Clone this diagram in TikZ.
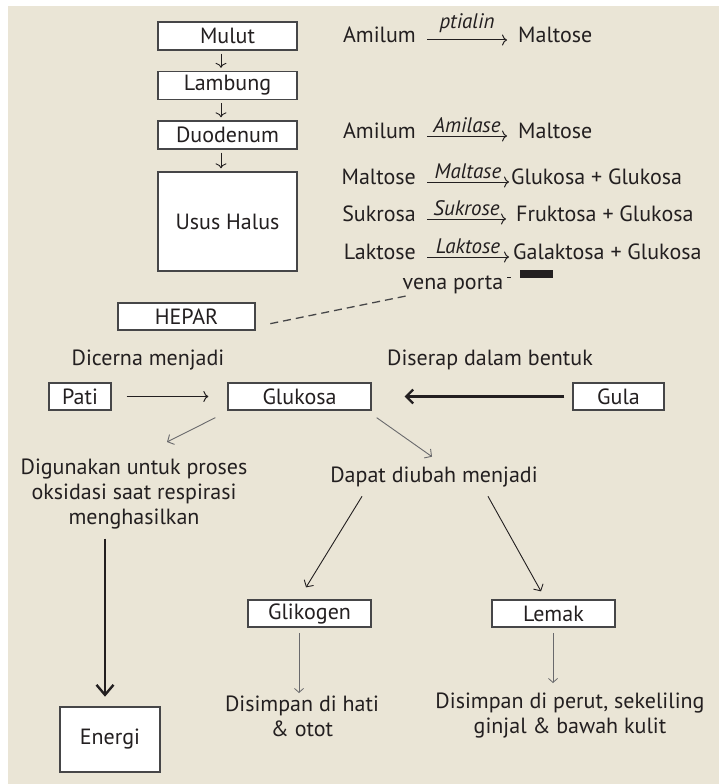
\documentclass[tikz,border=0pt]{standalone}
\usepackage{fontspec}
\setmainfont{PT Sans}
\usetikzlibrary{arrows.meta}
\definecolor{paper}{RGB}{234,229,214}
\definecolor{ink}{RGB}{35,31,32}
\definecolor{edge}{RGB}{70,70,72}
\definecolor{soft}{RGB}{105,105,108}
\begin{document}
\begin{tikzpicture}[x=1pt,y=-1pt,
  every node/.style={text=ink,inner sep=0pt,font=\fontsize{22}{25}\selectfont},
  organ/.style={draw=edge,fill=white,line width=1.3pt,minimum width=139pt,minimum height=28pt},
  lhs/.style={anchor=mid east},
  rhs/.style={anchor=mid west},
  enzyme/.style={anchor=base,yshift=4pt,font=\fontsize{21}{24}\selectfont\itshape},
  passage/.style={draw=ink,line width=0.9pt,-{Computer Modern Rightarrow[length=5pt,width=11pt]}},
  reaction/.style={draw=ink,line width=1pt,-{Computer Modern Rightarrow[length=5pt,width=11pt]}},
  lightarrow/.style={draw=soft,line width=0.9pt,-{Straight Barb[length=5pt,width=11pt]}},
  heavyarrow/.style={draw=ink,line width=2.2pt,-{Straight Barb[length=7pt,width=14pt]}},
  bigarrow/.style={draw=ink,line width=2.4pt,-{Straight Barb[length=10pt,width=17pt]}},
  porta/.style={draw=edge,line width=1.3pt,dash pattern=on 8pt off 5pt}
]
\useasboundingbox (0,0) rectangle (719,784);
\fill[white] (0,0) rectangle (719,784);
\fill[paper] (8,6) rectangle (719,784);

% digestive tract
\node[organ] (mulut) at (227.5,36) {Mulut};
\node[organ] (lambung) at (227.5,85.5) {Lambung};
\node[organ] (duo) at (227.5,135) {Duodenum};
\node[organ,minimum height=99pt] (usus) at (227.5,221.5) {Usus Halus};
\draw[passage] ([xshift=-6.5pt,yshift=-3pt]mulut.south) -- ([xshift=-6.5pt,yshift=3pt]lambung.north);
\draw[passage] ([xshift=-6.5pt,yshift=-3pt]lambung.south) -- ([xshift=-6.5pt,yshift=3pt]duo.north);
\draw[passage] ([xshift=-6.5pt,yshift=-3pt]duo.south) -- ([xshift=-6.5pt,yshift=3pt]usus.north);

% enzymatic reactions
\node[lhs] (a1) at (416,40) {Amilum};
\node[rhs] (b1) at (518,40) {Maltose};
\draw[reaction] ([xshift=11pt]a1.mid east) -- ([xshift=-11pt]b1.mid west)
  node[enzyme,midway,yshift=7pt] {ptialin};
\node[lhs] (a2) at (416,136) {Amilum};
\node[rhs] (b2) at (518,136) {Maltose};
\draw[reaction] ([xshift=11pt]a2.mid east) -- ([xshift=-11pt]b2.mid west)
  node[enzyme,midway] {Amilase};
\node[lhs] (a3) at (416,182) {Maltose};
\node[rhs] (b3) at (511,182) {Glukosa + Glukosa};
\draw[reaction] ([xshift=11pt]a3.mid east) -- ([xshift=-2pt]b3.mid west)
  node[enzyme,midway] {Maltase};
\node[lhs] (a4) at (416,219) {Sukrosa};
\node[rhs] (b4) at (516,219) {Fruktosa + Glukosa};
\draw[reaction] ([xshift=11pt]a4.mid east) -- ([xshift=-10pt]b4.mid west)
  node[enzyme,midway] {Sukrose};
\node[lhs] (a5) at (416,257) {Laktose};
\node[rhs] (b5) at (513,257) {Galaktosa + Glukosa};
\draw[reaction] ([xshift=11pt]a5.mid east) -- ([xshift=-4pt]b5.mid west)
  node[enzyme,midway] {Laktose};
\fill[ink] (520,270) rectangle (553,278);
\draw[ink,line width=0.8pt] (507,277) -- (511,277);

% portal vein to the liver
\node[anchor=mid] (vena) at (453,287) {vena porta};
\node[organ,minimum width=137pt,minimum height=27pt] (hepar) at (186.5,316.5) {HEPAR};
\draw[porta] ([xshift=3pt,yshift=-2pt]vena.south west) -- ([xshift=13pt,yshift=-7.5pt]hepar.east);

% glucose and its uses
\node (dicerna) at (148,360) {Dicerna menjadi};
\node (diserap) at (490,360) {Diserap dalam bentuk};
\node[organ,minimum width=62pt,minimum height=27pt] (pati) at (80,396.5) {Pati};
\node[organ,minimum width=143pt,minimum height=27pt] (glukosa) at (299.5,396.5) {Glukosa};
\node[organ,minimum width=91pt,minimum height=27pt] (gula) at (618.5,396.5) {Gula};
\draw[reaction] ([xshift=15pt]pati.east) -- ([xshift=-19pt]glukosa.west);
\draw[heavyarrow] ([xshift=-8pt]gula.west) -- ([xshift=33pt]glukosa.east);

\node[align=center,anchor=north] (guna) at (134,459)
  {Digunakan untuk proses\\oksidasi saat respirasi\\menghasilkan};
\node (dapat) at (434,477) {Dapat diubah menjadi};
\draw[lightarrow] ([xshift=-12pt,yshift=-7pt]glukosa.south west) -- ([xshift=33pt,yshift=17pt]guna.north);
\draw[lightarrow] ([xshift=5pt,yshift=-7pt]glukosa.south east) -- ([xshift=-2pt,yshift=10pt]dapat.north);

\node[organ,line width=2.6pt,minimum width=100pt,minimum height=65pt] (energi) at (110,739.5) {Energi};
\draw[bigarrow] (guna.south -| 105,0) ++(0,9) coordinate (gstart) -- ([xshift=-5pt,yshift=9pt]energi.north);

\node[organ,minimum width=123pt,minimum height=27pt] (glikogen) at (309.5,613.5) {Glikogen};
\node[organ,minimum width=123pt,minimum height=27pt] (lemak) at (553.5,613.5) {Lemak};
\draw[lightarrow,draw=ink] ([xshift=-72pt,yshift=-9pt]dapat.south) -- ([xshift=-3.5pt,yshift=12pt]glikogen.north);
\draw[lightarrow,draw=ink] ([xshift=54pt,yshift=-9pt]dapat.south) -- ([xshift=-12.5pt,yshift=8pt]lemak.north);

\node[align=center,anchor=north] (hati) at (302,696) {Disimpan di hati\\\& otot};
\node[align=center,anchor=north] (perut) at (570,693) {Disimpan di perut, sekeliling\\ginjal \& bawah kulit};
\draw[lightarrow,line width=0.8pt,-{Straight Barb[length=4pt,width=9pt]}] ([xshift=-10.5pt,yshift=-5.5pt]glikogen.south) -- ([xshift=-3pt,yshift=3pt]hati.north);
\draw[lightarrow,line width=0.8pt,-{Straight Barb[length=4pt,width=9pt]}] ([xshift=-0.5pt,yshift=-5.5pt]lemak.south) -- ([xshift=-17pt,yshift=10pt]perut.north);
\end{tikzpicture}
\end{document}
